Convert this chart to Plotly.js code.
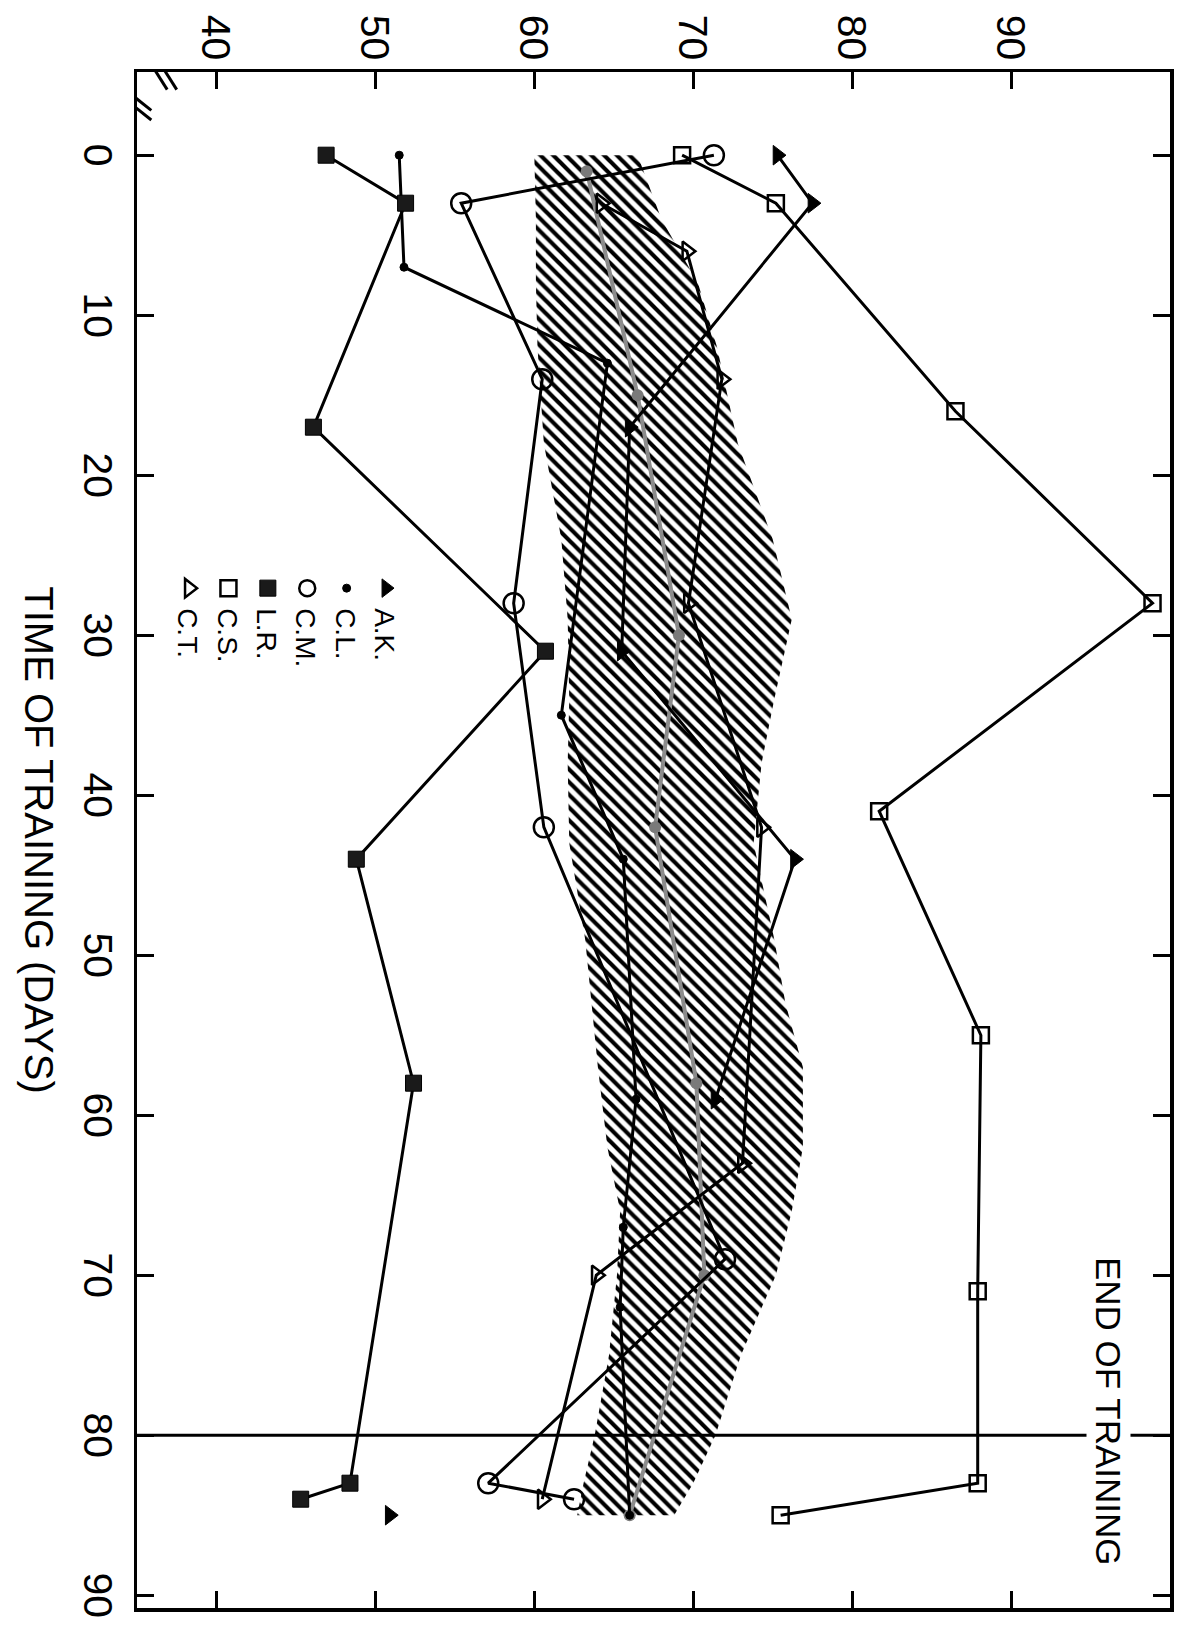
<!DOCTYPE html>
<html>
<head>
<meta charset="utf-8">
<script src="https://cdn.plot.ly/plotly-3.0.1.min.js"></script>
<style>
  html, body { margin:0; padding:0; background:#fff; width:1184px; height:1630px; overflow:hidden; }
  #wrap { position:absolute; left:0; top:0; width:1630px; height:1184px;
          transform-origin:0 0; transform: translateX(1184px) rotate(90deg); }
</style>
</head>
<body>
<div id="wrap"><div id="chart" style="width:1630px;height:1184px;"></div></div>
<script>
// ---- data (days of training, value) ----
const bandDays = [0, 4, 8, 12, 18, 24, 29, 34, 38, 43, 49, 53, 57, 62, 66, 70, 75, 80, 83, 85];
const bandLow  = [60.0, 60.1, 60.1, 60.2, 60.6, 61.7, 62.1, 62.2, 62.1, 62.2, 63.2, 63.6, 64.0, 64.6, 65.4, 65.2, 64.7, 63.8, 63.1, 62.7];
const bandHigh = [66.5, 68.0, 70.3, 71.5, 72.8, 75.0, 76.2, 75.1, 74.3, 73.8, 75.1, 75.8, 76.9, 76.9, 76.2, 75.2, 73.0, 71.4, 70.0, 68.8];

const meanDays = [1, 15, 30, 42, 58, 70, 85];
const meanVals = [63.3, 66.5, 69.1, 67.6, 70.2, 70.7, 66.0];

const akDays = [0, 3, 17, 31, 44, 59, null, 85];
const akVals = [75.3, 77.5, 66.0, 65.5, 76.4, 71.4, null, 50.9];

const clDays = [0, 7, 13, 35, 44, 59, 67, 72, 85];
const clVals = [51.5, 51.8, 64.6, 61.7, 65.6, 66.4, 65.6, 65.4, 66.0];

const cmDays = [0, 3, 14, 28, 42, 69, 83, 84];
const cmVals = [71.3, 55.4, 60.5, 58.7, 60.6, 72.0, 57.1, 62.5];

const lrDays = [0, 3, 17, 31, 44, 58, 83, 84];
const lrVals = [46.9, 51.9, 46.1, 60.7, 48.8, 52.4, 48.4, 45.3];

const csDays = [0, 3, 16, 28, 41, 55, 71, 83, 85];
const csVals = [69.3, 75.2, 86.5, 98.9, 81.7, 88.1, 87.9, 87.9, 75.5];

const ctDays = [3, 6, 14, 28, 42, 63, 70, 84];
const ctVals = [64.2, 69.6, 71.8, 69.7, 74.3, 73.1, 63.9, 60.5];

const seriesNames = ["A.K.", "C.L.", "C.M.", "L.R.", "C.S.", "C.T."];
const dayTicks = [0, 10, 20, 30, 40, 50, 60, 70, 80, 90];
const valueTicks = [40, 50, 60, 70, 80, 90];
const endDay = 80;
const endLabel = "END OF TRAINING";
const xTitle = "TIME OF TRAINING (DAYS)";

// ---- styles ----
const FONT = "'Liberation Sans', Arial, sans-serif";
const lineStyle = {color: "#000", width: 3};
const symbols = [
  {symbol: "triangle-up", size: 17, color: "#000", line: {color: "#000", width: 1}},
  {symbol: "circle", size: 8, color: "#000", line: {color: "#000", width: 1}},
  {symbol: "circle-open", size: 20, color: "#000", line: {color: "#000", width: 2.5}},
  {symbol: "square", size: 16, color: "#1a1a1a", line: {color: "#000", width: 1}},
  {symbol: "square-open", size: 16, color: "#000", line: {color: "#000", width: 2.5}},
  {symbol: "triangle-up-open", size: 17, color: "#000", line: {color: "#000", width: 2.5}}
];
const seriesX = [akDays, clDays, cmDays, lrDays, csDays, ctDays];
const seriesY = [akVals, clVals, cmVals, lrVals, csVals, ctVals];

const traces = [];
traces.push({
  x: bandDays.concat(bandDays.slice().reverse()),
  y: bandHigh.concat(bandLow.slice().reverse()),
  type: "scatter", mode: "lines", fill: "toself",
  fillcolor: "#ffffff",
  fillpattern: {shape: "/", size: 9, solidity: 0.45, fgcolor: "#000", bgcolor: "#fff"},
  line: {color: "rgba(0,0,0,0)", width: 0},
  showlegend: false, hoverinfo: "skip"
});
traces.push({
  x: meanDays, y: meanVals, type: "scatter", mode: "lines+markers",
  line: {color: "#8c8c8c", width: 4},
  marker: {symbol: "circle", size: 12, color: "#7a7a7a"},
  showlegend: false, hoverinfo: "skip"
});
for (let i = 0; i < seriesNames.length; i++) {
  traces.push({
    x: seriesX[i], y: seriesY[i], type: "scatter", mode: "lines+markers",
    line: lineStyle, marker: symbols[i], connectgaps: false,
    showlegend: false, name: seriesNames[i]
  });
}
for (let i = 0; i < seriesNames.length; i++) {
  traces.push({
    x: [null], y: [null], type: "scatter", mode: "markers",
    marker: Object.assign({}, symbols[i], {size: Math.min(symbols[i].size, 16)}),
    name: seriesNames[i], showlegend: true
  });
}

const axisCommon = {
  ticks: "inside", ticklen: 17, tickwidth: 3, tickcolor: "#000",
  showline: true, linewidth: 3.5, linecolor: "#000", mirror: "ticks",
  showgrid: false, zeroline: false,
  tickfont: {family: FONT, size: 41, color: "#000"}
};

const layout = {
  width: 1630, height: 1184,
  margin: {l: 72, r: 22, t: 14, b: 137},
  paper_bgcolor: "#fff", plot_bgcolor: "#fff",
  font: {family: FONT, color: "#000"},
  xaxis: Object.assign({}, axisCommon, {
    range: [-5.2, 90.8], tickmode: "array", tickvals: dayTicks,
    ticktext: dayTicks.map(String),
    title: {text: xTitle, font: {family: FONT, size: 40, color: "#000"}, standoff: 24},
    automargin: false
  }),
  yaxis: Object.assign({}, axisCommon, {
    range: [35, 100], tickmode: "array", tickvals: valueTicks,
    ticktext: valueTicks.map(String), automargin: false
  }),
  showlegend: true,
  legend: {
    x: 0.323, xanchor: "left", y: 0.265, yanchor: "top",
    bgcolor: "rgba(0,0,0,0)", borderwidth: 0,
    font: {family: FONT, size: 28, color: "#000"},
    itemwidth: 30, tracegroupgap: 0
  },
  shapes: [
    {type: "line", xref: "x", yref: "paper", x0: endDay, x1: endDay, y0: 0, y1: 1,
     line: {color: "#000", width: 3}},
    // axis break marks
    {type: "line", xref: "x", yref: "y", x0: -6.3, x1: -4.1, y0: 35.5, y1: 36.9, line: {color: "#000", width: 3}},
    {type: "line", xref: "x", yref: "y", x0: -6.3, x1: -4.1, y0: 36.1, y1: 37.5, line: {color: "#000", width: 3}},
    {type: "line", xref: "x", yref: "y", x0: -4.3, x1: -2.8, y0: 34.0, y1: 35.9, line: {color: "#000", width: 3}},
    {type: "line", xref: "x", yref: "y", x0: -3.7, x1: -2.2, y0: 34.0, y1: 35.9, line: {color: "#000", width: 3}}
  ],
  annotations: [
    {x: 78.5, y: 96.1, xref: "x", yref: "y", text: endLabel, showarrow: false,
     font: {family: FONT, size: 35, color: "#000"}, bgcolor: "#fff", borderpad: 2}
  ]
};

Plotly.newPlot("chart", traces, layout, {displayModeBar: false, staticPlot: true});
</script>
</body>
</html>
